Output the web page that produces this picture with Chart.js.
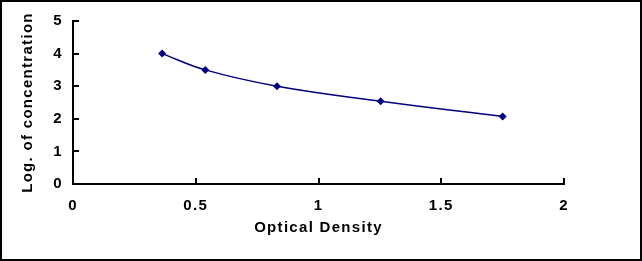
<!DOCTYPE html>
<html>
<head>
<meta charset="utf-8">
<script src="https://cdn.jsdelivr.net/npm/chart.js@4.4.1/dist/chart.umd.min.js"></script>
<style>
  html, body { margin: 0; padding: 0; background: #fff; }
  #wrap { width: 642px; height: 261px; }
</style>
</head>
<body>
<div id="wrap"><canvas id="chart" width="642" height="261"></canvas></div>
<script>
// --- Datos de la curva ---
const odValues = [0.363, 0.539, 0.831, 1.253, 1.750];   // Optical Density
const logConc = [4.0, 3.5, 3.0, 2.54, 2.07];             // Log. of concentration
const xTickLabels = ["0", "0.5", "1", "1.5", "2"];
const yTickLabels = ["0", "1", "2", "3", "4", "5"];

const el = (id) => document.getElementById(id);

// espaciado de letras como en el original
const spacing = {
    id: "spacing",
    beforeLayout: (chart) => { chart.ctx.letterSpacing = "1.3px"; },
    beforeDraw: (chart) => { chart.ctx.letterSpacing = "1.3px"; },
};

// marcas de los ejes hacia dentro + marco exterior
const innerTicks = {
    id: "innerTicks",
    afterDraw: (chart) => {
        const ctx = chart.ctx;
        const { x, y } = chart.scales;
        ctx.save();
        ctx.strokeStyle = "#000";
        ctx.lineWidth = 2;
        ctx.beginPath();
        x.ticks.forEach((t, i) => {
            if (i === 0) return;
            const px = Math.round(x.getPixelForTick(i));
            ctx.moveTo(px, y.bottom);
            ctx.lineTo(px, y.bottom - 6);
        });
        y.ticks.forEach((t, i) => {
            if (i === 0) return;
            const py = Math.round(y.getPixelForTick(i));
            ctx.moveTo(x.left, py);
            ctx.lineTo(x.left + 6, py);
        });
        ctx.stroke();
        ctx.strokeRect(1, 1, chart.width - 2, chart.height - 2);
        ctx.restore();
    },
};

const font = { family: "'Liberation Sans', Arial, sans-serif", size: 15, weight: "bold" };

new Chart(el("chart").getContext("2d"), {
    type: "line",
    data: {
        datasets: [{
            data: odValues.map((v, i) => ({ x: v, y: logConc[i] })),
            borderColor: "#000080",
            backgroundColor: "#000080",
            borderWidth: 1.5,
            tension: 0.4,
            pointStyle: "rectRot",
            pointRadius: 4,
            pointBorderWidth: 0,
            fill: false,
        }],
    },
    options: {
        responsive: false,
        animation: false,
        devicePixelRatio: 1,
        layout: { padding: { left: 0, right: 78, top: 21, bottom: 0 } },
        plugins: { legend: { display: false }, tooltip: { enabled: false } },
        scales: {
            x: {
                type: "linear",
                min: 0, max: 2,
                afterFit: (s) => { s.height = 77; },
                ticks: {
                    stepSize: 0.5,
                    padding: 13,
                    color: "#000",
                    font,
                    maxRotation: 0,
                    callback: (v, i) => xTickLabels[i],
                },
                grid: { drawOnChartArea: false, drawTicks: false },
                border: { color: "#000", width: 2 },
                title: { display: true, text: "Optical Density", color: "#000", font, padding: { top: 0, bottom: 24 } },
            },
            y: {
                type: "linear",
                min: 0, max: 5,
                afterFit: (s) => { s.width = 73; },
                ticks: {
                    stepSize: 1,
                    padding: 10,
                    color: "#000",
                    font,
                    callback: (v, i) => yTickLabels[i],
                },
                grid: { drawOnChartArea: false, drawTicks: false },
                border: { color: "#000", width: 2 },
                title: { display: true, text: "Log. of concentration", color: "#000", font, padding: { top: 19, bottom: 0 } },
            },
        },
    },
    plugins: [spacing, innerTicks],
});
</script>
</body>
</html>
